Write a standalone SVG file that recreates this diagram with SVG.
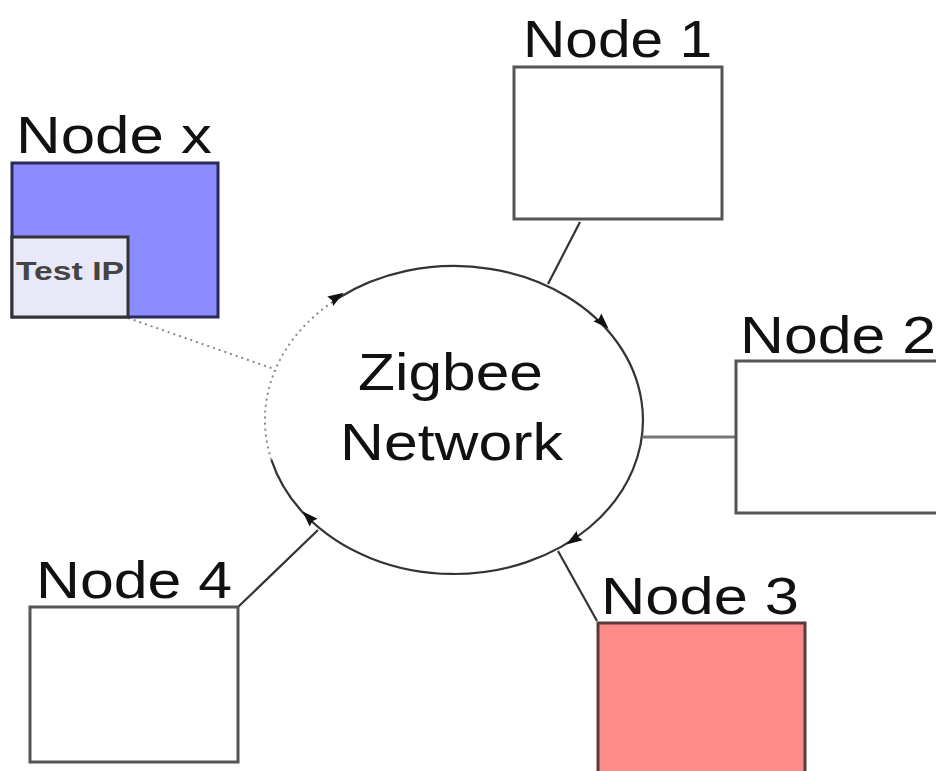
<svg xmlns="http://www.w3.org/2000/svg" width="936" height="771" viewBox="0 0 936 771">
<style>
.lbl{font-family:"Liberation Sans",Arial,sans-serif;font-size:52px;fill:#111}
.box{fill:#fff;stroke:#555;stroke-width:3}
.con{fill:none;stroke:#333;stroke-width:2.2}
.dot{fill:none;stroke:#888;stroke-width:2;stroke-dasharray:2 4}
</style>
<defs>
<path id="ah" d="M8 0 L-8 -5.5 L-6 0 L-8 5.5 Z" fill="#111"/>
</defs>
<rect width="936" height="771" fill="#fff"/>
<g id="connectors">
<path class="con" d="M338.1 298.3 A189 154 0 1 1 271.4 459.9"/>
<path class="dot" d="M271.4 459.9 A189 154 0 0 1 338.1 298.3"/>
<line class="dot" x1="128" y1="318" x2="274" y2="369"/>
<line class="con" x1="580" y1="222" x2="548" y2="284"/>
<line x1="642" y1="437" x2="736" y2="437" stroke="#777" stroke-width="3"/>
<line class="con" x1="597" y1="621" x2="558" y2="551"/>
<line class="con" x1="238" y1="607" x2="318" y2="530"/>
<use href="#ah" transform="translate(337 297) rotate(-32)"/>
<use href="#ah" transform="translate(603 323) rotate(45.5)"/>
<use href="#ah" transform="translate(573 540) rotate(146.6)"/>
<use href="#ah" transform="translate(308 517) rotate(-135)"/>
</g>
<g id="network">
<text class="lbl" x="358" y="390" textLength="185" lengthAdjust="spacingAndGlyphs">Zigbee</text>
<text class="lbl" x="340" y="460" textLength="223" lengthAdjust="spacingAndGlyphs">Network</text>
</g>
<g id="nodex">
<rect x="12" y="163" width="206" height="154" fill="#8a8cff" stroke="#2a2a5a" stroke-width="3"/>
<rect x="12" y="237" width="116" height="80" fill="#e8e8f8" stroke="#333" stroke-width="3"/>
<text x="16" y="280" textLength="108" lengthAdjust="spacingAndGlyphs" style="font-family:'Liberation Sans',Arial,sans-serif;font-size:25px;font-weight:bold;fill:#444">Test IP</text>
<text class="lbl" x="16" y="153" textLength="196" lengthAdjust="spacingAndGlyphs">Node x</text>
</g>
<g id="node1">
<rect class="box" x="514" y="67" width="208" height="152"/>
<text class="lbl" x="523" y="57" textLength="189" lengthAdjust="spacingAndGlyphs">Node 1</text>
</g>
<g id="node2">
<rect class="box" x="736" y="361" width="210" height="152"/>
<text class="lbl" x="740" y="353" textLength="196" lengthAdjust="spacingAndGlyphs">Node 2</text>
</g>
<g id="node3">
<rect x="598" y="623" width="207" height="160" fill="#ff8a8a" stroke="#5a3a3a" stroke-width="3"/>
<text class="lbl" x="601" y="614" textLength="198" lengthAdjust="spacingAndGlyphs">Node 3</text>
</g>
<g id="node4">
<rect class="box" x="30" y="607" width="208" height="155"/>
<text class="lbl" x="36" y="598" textLength="196" lengthAdjust="spacingAndGlyphs">Node 4</text>
</g>
</svg>
